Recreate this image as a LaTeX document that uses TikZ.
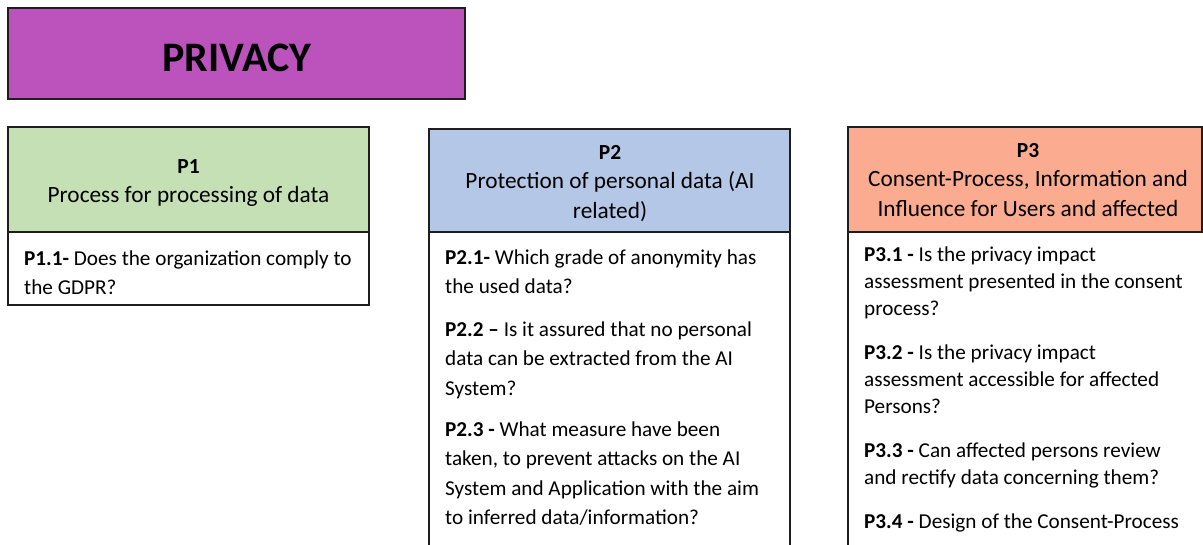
\documentclass[tikz,border=0pt]{standalone}
\usepackage{fontspec}
\setmainfont{Carlito}
\definecolor{privpurple}{HTML}{BC53BC}
\definecolor{hgreen}{HTML}{C5E0B4}
\definecolor{hblue}{HTML}{B4C7E7}
\definecolor{hsalmon}{HTML}{FBAB8F}
\definecolor{edge}{HTML}{1E1E1E}
\newcommand\mylbl[1]{{\fontsize{21.5bp}{29.5bp}\selectfont\bfseries #1}}
\newcommand\hstrut{\rule{0pt}{24bp}}
\newcommand\bstrut{\rule{0pt}{22bp}}
\begin{document}
\begin{tikzpicture}[x=1bp,y=-1bp,
  boxnode/.style={draw=edge, line width=1.8bp, rectangle, anchor=north west, inner sep=0pt, outer sep=0pt},
  hdrtext/.style={align=center, anchor=north, inner sep=0pt, font=\fontsize{23.3bp}{29.8bp}\selectfont},
  bodytextA/.style={align=left, anchor=north west, inner sep=0pt, font=\fontsize{21.2bp}{29.5bp}\selectfont},
  bodytextB/.style={align=left, anchor=north west, inner sep=0pt, font=\fontsize{21.2bp}{27bp}\selectfont}]
\useasboundingbox (0,0) rectangle (1203,545);
\fill[white] (0,0) rectangle (1203,545);

% title
\node[boxnode, fill=privpurple, minimum width=457bp, minimum height=91bp] (title) at (8,8) {};
\node[anchor=base, inner sep=0pt, font=\fontsize{42bp}{48bp}\selectfont\bfseries] (titletext) at (237,72) {PRIVACY};

% P1
\node[boxnode, fill=hgreen, minimum width=361bp, minimum height=105bp] (p1h) at (8,127) {};
\node[boxnode, fill=white, minimum width=361bp, minimum height=73bp] (p1b) at (8,232) {};
\node[hdrtext] (p1t) at (188.5,149) {\hstrut\mylbl{P1}\\Process for processing of data};
\node[bodytextA] (p11) at (24,243) {\bstrut\textbf{P1.1-} Does the organization comply to\\the GDPR?};

% P2
\node[boxnode, fill=hblue, minimum width=361bp, minimum height=103bp] (p2h) at (429,129) {};
\node[boxnode, fill=white, minimum width=361bp, minimum height=340bp] (p2b) at (429,232) {};
\node[hdrtext] (p2t) at (610,135) {\hstrut\mylbl{P2}\\Protection of personal data (AI\\related)};
\node[bodytextA] (p21) at (445,242) {\bstrut\textbf{P2.1-} Which grade of anonymity has\\the used data?};
\node[bodytextA] (p22) at (445,314) {\bstrut\textbf{P2.2 –} Is it assured that no personal\\data can be extracted from the AI\\System?};
\node[bodytextA] (p23) at (445,414) {\bstrut\textbf{P2.3 -} What measure have been\\taken, to prevent attacks on the AI\\System and Application with the aim\\to inferred data/information?};

% P3
\node[boxnode, fill=hsalmon, minimum width=354bp, minimum height=105bp] (p3h) at (848,127) {};
\node[boxnode, fill=white, minimum width=370bp, minimum height=340bp] (p3b) at (848,232) {};
\node[boxnode, minimum width=354bp, minimum height=105bp] (p3hedge) at (848,127) {};
\node[hdrtext] (p3t) at (1028,133) {\hstrut\mylbl{P3}\\Consent-Process, Information and\\Influence for Users and affected};
\node[bodytextB] (p31) at (864,239) {\bstrut\textbf{P3.1 -} Is the privacy impact\\assessment presented in the consent\\process?};
\node[bodytextB] (p32) at (864,337) {\bstrut\textbf{P3.2 -} Is the privacy impact\\assessment accessible for affected\\Persons?};
\node[bodytextB] (p33) at (864,435) {\bstrut\textbf{P3.3 -} Can affected persons review\\and rectify data concerning them?};
\node[bodytextB] (p34) at (864,506) {\bstrut\textbf{P3.4 -} Design of the Consent-Process};
\end{tikzpicture}
\end{document}
